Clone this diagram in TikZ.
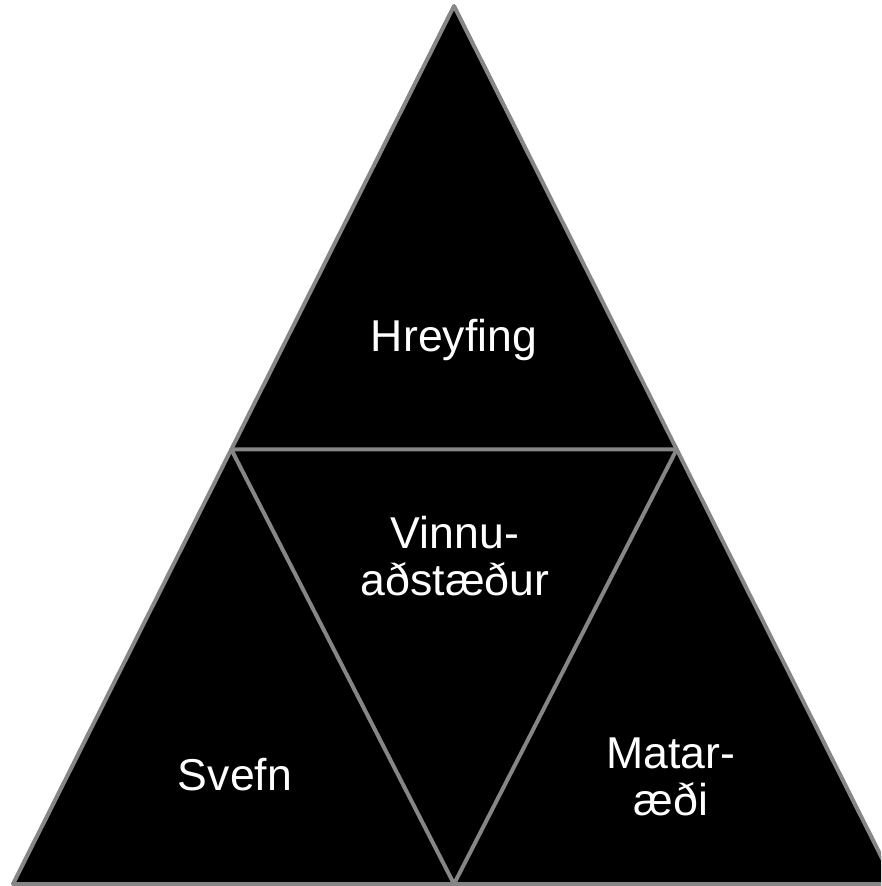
\documentclass[tikz,border=0pt]{standalone}
\usepackage{fontspec}
\setmainfont{Liberation Sans}
\usetikzlibrary{calc,positioning}

\begin{document}
\begin{tikzpicture}[
            x=0.5pt, y=-0.5pt,
            piece/.style={draw=gray!95!white, fill=black, line width=2pt, line join=round},
            edge/.style={draw=gray!95!white, line width=2pt, line join=round},
            lab/.style={text=white, align=center, inner sep=0pt, font=\fontsize{22.3}{23.5}\selectfont}
        ]

        \clip (0,0) rectangle (881,886);

        % corners
        \coordinate (apex) at (454,6);
        \coordinate (botleft) at (13,884);
        \coordinate (botright) at (895,884);
        \coordinate (midleft) at ($(apex)!0.505!(botleft)$);
        \coordinate (midright) at ($(apex)!0.505!(botright)$);
        \coordinate (midbot) at ($(botleft)!0.5!(botright)$);

        % triangles
        \draw[piece] (apex) -- (botleft) -- (botright) -- cycle;
        \draw[edge] (midleft) -- (midright) -- (midbot) -- cycle;

        % labels
        \node[lab] (hreyfing) at (454,340) {Hreyfing};
        \node[lab] (vinnu) at (455,556) {Vinnu-\\aðstæður};
        \node[lab] (svefn) at (235,775) {Svefn};
        \node[lab] (matar) at (671,777) {Matar-\\æði};

    \end{tikzpicture}
\end{document}
